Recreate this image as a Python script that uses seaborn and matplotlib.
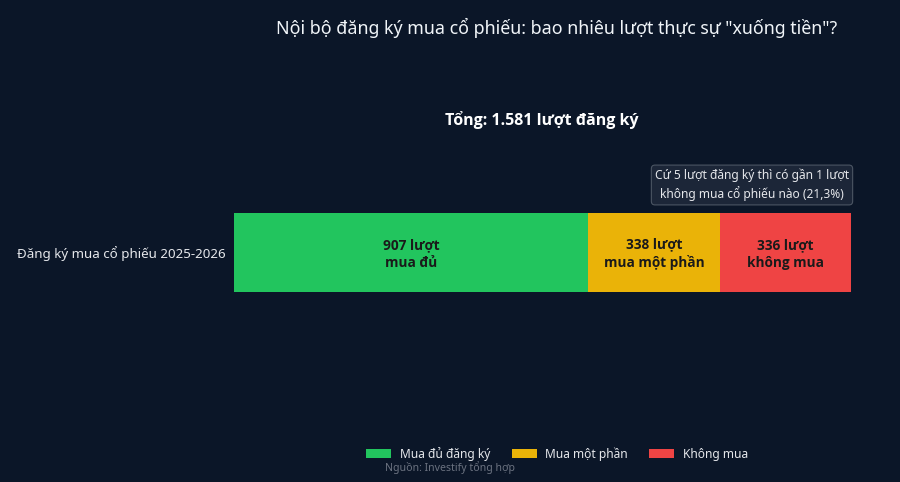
import matplotlib
matplotlib.use("Agg")
import matplotlib.pyplot as plt
import seaborn as sns
import pandas as pd
from matplotlib.patches import Patch
from matplotlib import font_manager

categories = ["Mua đủ đăng ký", "Mua một phần", "Không mua"]
values = [907, 338, 336]
bar_labels = ["907 lượt\nmua đủ", "338 lượt\nmua một phần", "336 lượt\nkhông mua"]
colors = ["#22c55e", "#eab308", "#ef4444"]
row_label = "Đăng ký mua cổ phiếu 2025-2026"
total = sum(values)

BG = "#0b1628"
sns.set_theme(style="dark")
bold_ok = any(f.name == "Noto Sans" and f.weight in (700, "bold") for f in font_manager.fontManager.ttflist)
main_family = ['Noto Sans', 'DejaVu Sans']
bold_family = ['Noto Sans', 'DejaVu Sans'] if bold_ok else ['Open Sans', 'DejaVu Sans']
plt.rcParams['font.family'] = main_family

fig = plt.figure(figsize=(9, 4.82), dpi=100, facecolor=BG)
ax = fig.add_axes([234/900, 1-292/482, (851-234)/900, 79/482])
ax.set_facecolor(BG)

cum = []
s = 0
for v in values:
    s += v
    cum.append(s)
for i in reversed(range(len(values))):
    df = pd.DataFrame({"row": [row_label], "val": [cum[i]]})
    sns.barplot(data=df, x="val", y="row", orient="h", color=colors[i],
                width=1.0, saturation=1, ax=ax, linewidth=0)

ax.set_xlim(0, total)
ax.set_ylim(0.5, -0.5)
ax.set_xlabel("")
ax.set_ylabel("")
ax.set_xticks([])
ax.tick_params(axis="y", length=0, labelsize=9.6, labelcolor="#e5e7eb", pad=6)
for sp in ax.spines.values():
    sp.set_visible(False)

left = 0
for v, lab in zip(values, bar_labels):
    ax.text(left + v/2, 0.02, lab, ha="center", va="center", fontsize=9.8,
            fontweight="bold", family=bold_family, color="#1a1a1a", linespacing=1.3)
    left += v

fig.text(557/900, 1-28/482, 'Nội bộ đăng ký mua cổ phiếu: bao nhiêu lượt thực sự "xuống tiền"?',
         ha="center", va="center", fontsize=12.8, color="#f1f5f9")
fig.text(542/900, 1-120/482, "Tổng: 1.581 lượt đăng ký", ha="center", va="center",
         fontsize=11.5, fontweight="bold", family=bold_family, color="#ffffff")
fig.text(752/900, 1-185/482, "Cứ 5 lượt đăng ký thì có gần 1 lượt\nkhông mua cổ phiếu nào (21,3%)",
         ha="center", va="center", fontsize=8.6, color="#e5e7eb", linespacing=1.35,
         bbox=dict(boxstyle="round,pad=0.3,rounding_size=0.3", fc="#1c2638", ec="#4b5563", lw=0.8))

handles = [Patch(facecolor=c, edgecolor="none") for c in colors]
fig.legend(handles, categories, loc="center", bbox_to_anchor=(557/900, 1-454/482), ncol=3,
           frameon=False, fontsize=8.6, labelcolor="#e5e7eb", handlelength=2.1, handleheight=0.8,
           columnspacing=1.8, handletextpad=0.7)
fig.text(385/900, 1-468/482, "Nguồn: Investify tổng hợp", ha="left", va="center",
         fontsize=7.6, color="#6b7280")

fig.savefig("out.png", dpi=100, facecolor=BG)
